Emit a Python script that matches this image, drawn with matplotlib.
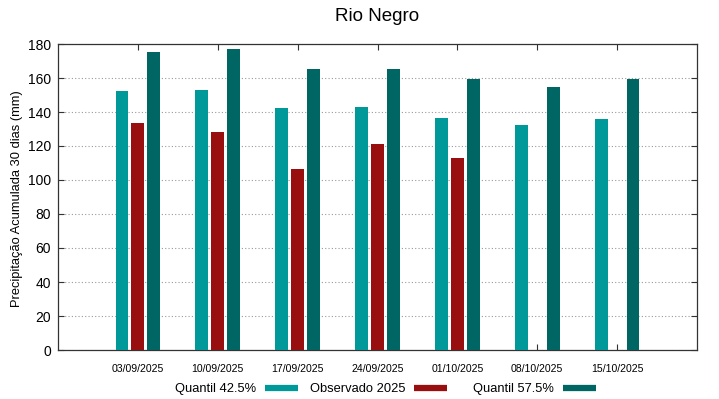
import numpy as np
import matplotlib
matplotlib.use('Agg')
import matplotlib.pyplot as plt
from matplotlib.lines import Line2D

plt.rcParams['font.family'] = ['Liberation Sans', 'DejaVu Sans']

# data
dates = ['03/09/2025', '10/09/2025', '17/09/2025', '24/09/2025', '01/10/2025', '08/10/2025', '15/10/2025']
q425 = [152.2, 153.2, 142.2, 142.8, 136.7, 132.4, 135.7]
obs2025 = [133.4, 128.2, 106.7, 121.2, 113.2, np.nan, np.nan]
q575 = [175.1, 177.1, 165.1, 165.1, 159.2, 154.9, 159.2]
names = ['Quantil 42.5%', 'Observado 2025', 'Quantil 57.5%']

c_q425 = '#009999'
c_obs = '#990e0e'
c_q575 = '#006663'
colors = [c_q425, c_obs, c_q575]

W, H = 719, 399
fig = plt.figure(figsize=(W / 100, H / 100), dpi=100)
ax = fig.add_axes([58 / W, 1 - 350 / H, 639 / W, 306 / H])

x = np.arange(1, len(dates) + 1)
w = 0.16
ax.bar(x - 0.2, q425, width=w, color=c_q425, zorder=3)
ax.bar(x, obs2025, width=w, color=c_obs, zorder=3)
ax.bar(x + 0.2, q575, width=w, color=c_q575, zorder=3)

ax.set_xlim(0, 8)
ax.set_ylim(0, 180)
ax.set_xticks(x)
ax.set_xticklabels(dates, fontsize=7.6)
ax.set_yticks(np.arange(0, 181, 20))
ax.tick_params(axis='y', labelsize=10, pad=5)
ax.tick_params(direction='in', top=True, right=True, length=4, width=0.8, color='#333333')
ax.tick_params(axis='x', pad=10)
for s in ax.spines.values():
    s.set_linewidth(0.9)
    s.set_color('#333333')

ax.yaxis.grid(True, linestyle=(0, (1, 2)), color='#999999', linewidth=0.8, zorder=0)

fig.text(17.5 / W, 1 - 199 / H, 'Precipitação Acumulada 30 dias (mm)', rotation=90,
         ha='center', va='center', fontsize=9.3)
fig.text(377 / W, 1 - 16.5 / H, 'Rio Negro', ha='center', va='center', fontsize=13.5)

# gnuplot-like legend: label then sample, below the plot
text_end = [255.7, 405, 553.7]
y_base = 1 - 392 / H
y_leg = 1 - 388 / H
for name, col, te in zip(names, colors, text_end):
    fig.text(te / W, y_base, name, ha='right', va='baseline', fontsize=9.3)
    fig.add_artist(Line2D([(te + 9) / W, (te + 42) / W], [y_leg, y_leg],
                          color=col, lw=4.5, solid_capstyle='butt',
                          transform=fig.transFigure))

fig.savefig('out.png', dpi=100)
